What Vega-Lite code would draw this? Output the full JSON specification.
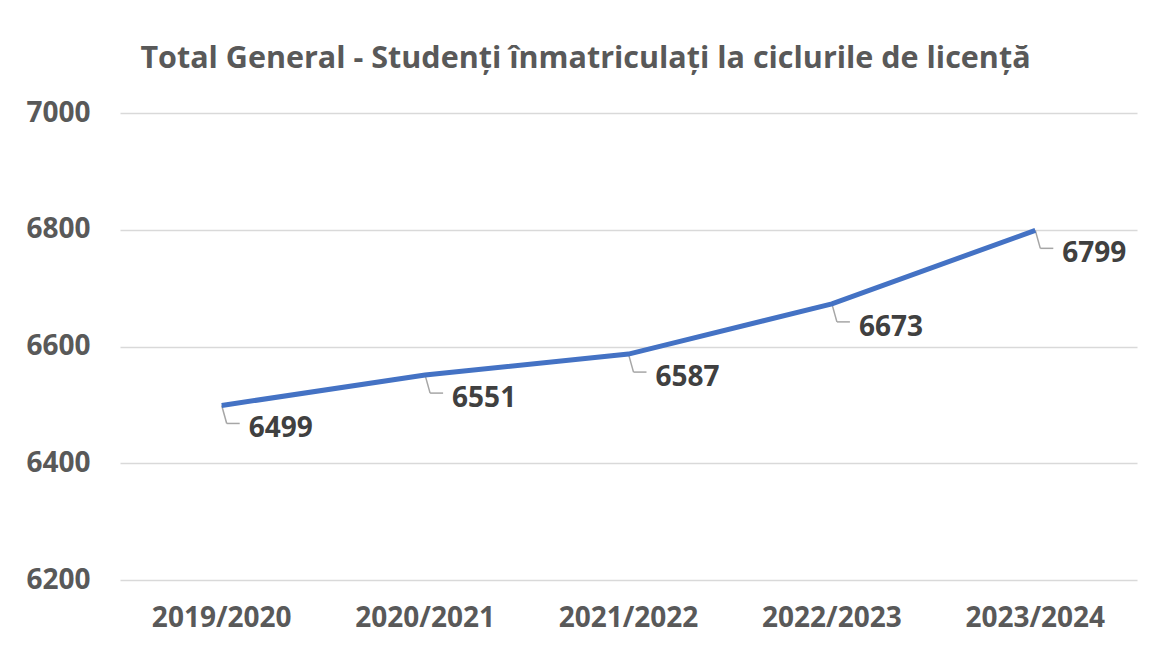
{
  "$schema": "https://vega.github.io/schema/vega-lite/v6.json",
  "width": 1017,
  "height": 467,
  "autosize": {"type": "none"},
  "padding": {"left": 120, "top": 113, "right": 12, "bottom": 70},
  "background": "white",
  "title": {
    "text": "Total General - Studenți înmatriculați la ciclurile de licență",
    "font": "Open Sans",
    "fontSize": 30.5,
    "fontWeight": "bold",
    "color": "#595959",
    "anchor": "middle",
    "dx": -43,
    "offset": 25
  },
  "data": {
    "values": [
      {"an": "2019/2020", "studenti": 6499},
      {"an": "2020/2021", "studenti": 6551},
      {"an": "2021/2022", "studenti": 6587},
      {"an": "2022/2023", "studenti": 6673},
      {"an": "2023/2024", "studenti": 6799}
    ]
  },
  "encoding": {
    "x": {
      "field": "an", "type": "ordinal", "sort": null,
      "axis": {"title": null, "labelAngle": 0, "ticks": false, "domain": false, "grid": false,
        "labelFont": "Open Sans", "labelFontSize": 28, "labelFontWeight": "bold", "labelColor": "#595959", "labelPadding": 24}
    },
    "y": {
      "field": "studenti", "type": "quantitative",
      "scale": {"domain": [6200, 7000], "nice": false, "zero": false},
      "axis": {"title": null, "values": [6200, 6400, 6600, 6800, 7000], "format": "d", "ticks": false, "domain": false,
        "gridColor": "#d9d9d9", "gridWidth": 1.3,
        "labelFont": "Open Sans", "labelFontSize": 28, "labelFontWeight": "bold", "labelColor": "#595959", "labelPadding": 30}
    }
  },
  "layer": [
    {"mark": {"type": "rule", "color": "#a6a6a6", "strokeWidth": 1.5, "x2Offset": 5, "y2Offset": 18},
     "encoding": {"x2": {"field": "an"}, "y2": {"field": "studenti"}}},
    {"mark": {"type": "rule", "color": "#a6a6a6", "strokeWidth": 1.5, "xOffset": 5, "yOffset": 18, "x2Offset": 18, "y2Offset": 18},
     "encoding": {"x2": {"field": "an"}, "y2": {"field": "studenti"}}},
    {"mark": {"type": "line", "color": "#4472C4", "strokeWidth": 5}},
    {"mark": {"type": "text", "align": "left", "baseline": "middle", "dx": 27, "dy": 24,
      "font": "Open Sans", "fontSize": 28, "fontWeight": "bold", "color": "#404040"},
     "encoding": {"text": {"field": "studenti", "type": "quantitative", "format": "d"}}}
  ],
  "config": {"view": {"stroke": null}}
}
